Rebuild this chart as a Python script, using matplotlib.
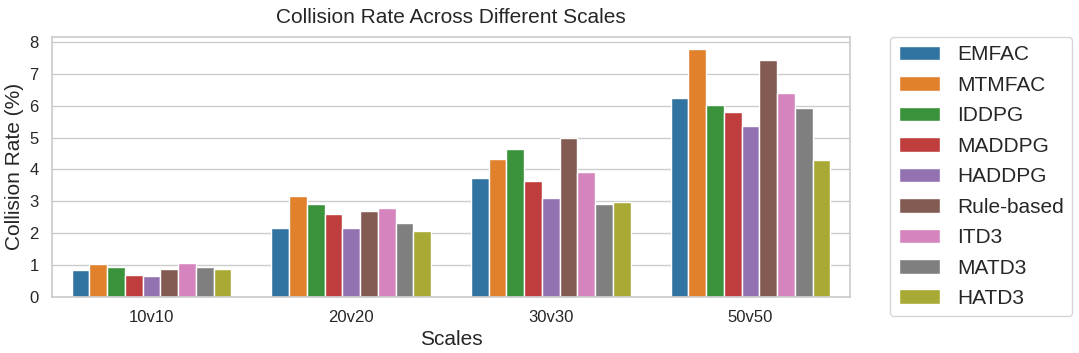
import numpy as np
import pandas as pd
import matplotlib
matplotlib.use('Agg')
import matplotlib.pyplot as plt
from matplotlib.ticker import MultipleLocator
import seaborn as sns

scales = ['10v10', '20v20', '30v30', '50v50']
methods = ['EMFAC', 'MTMFAC', 'IDDPG', 'MADDPG', 'HADDPG',
           'Rule-based', 'ITD3', 'MATD3', 'HATD3']

# collision rate (%) per method, one value per scale
emfac = [0.83, 2.15, 3.73, 6.23]
mtmfac = [1.03, 3.16, 4.31, 7.77]
iddpg = [0.94, 2.90, 4.63, 6.03]
maddpg = [0.69, 2.59, 3.63, 5.79]
haddpg = [0.65, 2.15, 3.10, 5.35]
rule_based = [0.88, 2.70, 4.98, 7.45]
itd3 = [1.06, 2.79, 3.90, 6.40]
matd3 = [0.93, 2.32, 2.90, 5.94]
hatd3 = [0.87, 2.05, 2.96, 4.29]

values = [emfac, mtmfac, iddpg, maddpg, haddpg, rule_based, itd3, matd3, hatd3]
rows = []
for m, vals in zip(methods, values):
    for s, v in zip(scales, vals):
        rows.append({'Scales': s, 'Method': m, 'Collision Rate': v})
df = pd.DataFrame(rows)

sns.set_theme(style='whitegrid')
plt.rcParams['font.family'] = ['Arial', 'Liberation Sans', 'DejaVu Sans']

fig, ax = plt.subplots(figsize=(10.79, 3.53), dpi=100)
sns.barplot(data=df, x='Scales', y='Collision Rate', hue='Method',
            palette='tab10', ax=ax)

ax.set_title('Collision Rate Across Different Scales', fontsize=15, pad=10)
ax.set_xlabel('Scales', fontsize=15)
ax.set_ylabel('Collision Rate (%)', fontsize=15)
ax.yaxis.set_major_locator(MultipleLocator(1))
ax.tick_params(axis='x', labelsize=12)
ax.tick_params(axis='y', labelsize=12)
ax.legend(loc='upper left', bbox_to_anchor=(1.05, 1.0), fontsize=15,
          borderaxespad=0, handlelength=2.0, handletextpad=0.8,
          labelspacing=0.55)

fig.subplots_adjust(left=0.048, right=0.788, top=0.895, bottom=0.16)
fig.savefig('out.png', dpi=100)
